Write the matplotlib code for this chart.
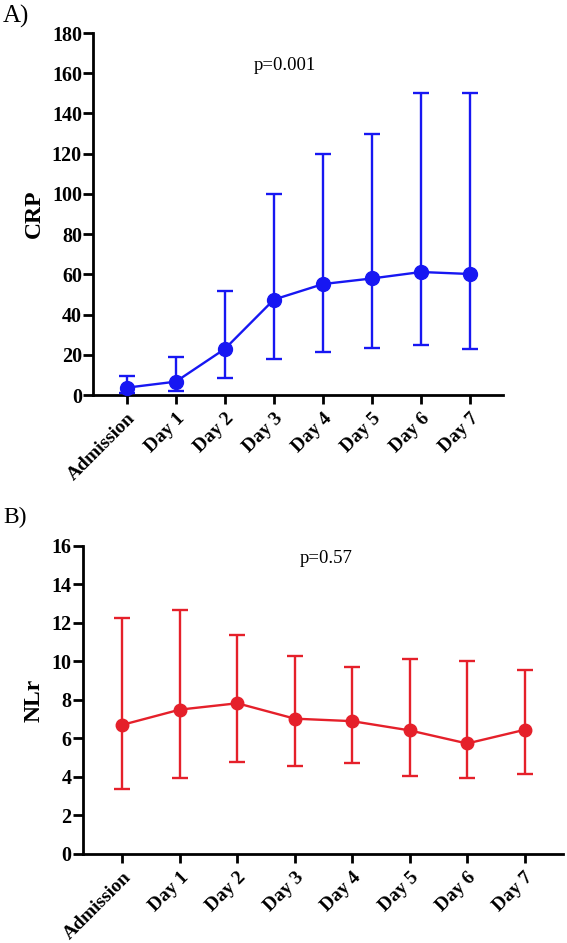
import matplotlib.pyplot as plt
import numpy as np

plt.rcParams['font.family'] = ['Liberation Serif', 'DejaVu Serif']

days = ["Admission", "Day 1", "Day 2", "Day 3", "Day 4", "Day 5", "Day 6", "Day 7"]

# CRP: mean with lower / upper bar ends
crp_mean = [3.7, 6.7, 23.0, 47.5, 55.2, 58.0, 61.2, 60.2]
crp_low = [1.2, 2.0, 8.7, 18.0, 21.2, 23.3, 25.0, 23.0]
crp_high = [9.7, 19.0, 52.0, 100.0, 120.0, 130.0, 150.0, 150.0]
crp_p = "p=0.001"

# NLr: mean with lower / upper bar ends
nlr_mean = [6.71, 7.50, 7.83, 7.03, 6.90, 6.42, 5.74, 6.45]
nlr_low = [3.37, 3.95, 4.77, 4.57, 4.73, 4.03, 3.95, 4.17]
nlr_high = [12.24, 12.70, 11.36, 10.29, 9.72, 10.12, 10.05, 9.57]
nlr_p = "p=0.57"

fig = plt.figure(figsize=(5.67, 9.43), dpi=100)
ax_a = fig.add_axes([0.164, 0.581, 0.723, 0.384])
ax_b = fig.add_axes([0.146, 0.0944, 0.847, 0.3266])


def draw_panel(ax, mean, low, high, color, ylabel, ymax, ystep, ptext, ppos, ms):
    x = np.arange(len(days))
    mean = np.array(mean)
    yerr = [mean - np.array(low), np.array(high) - mean]
    ax.errorbar(x, mean, yerr=yerr, color=color, marker='o', markersize=ms,
                linewidth=1.7, elinewidth=1.7, capsize=5.5, capthick=1.7,
                clip_on=False, zorder=3)
    ax.set_ylim(0, ymax)
    ax.set_yticks(np.arange(0, ymax + ystep / 2, ystep))
    ax.set_xlim(-0.69, 7.67)
    ax.set_xticks(x)
    ax.set_xticklabels(days, rotation=45, ha='right', rotation_mode='anchor',
                       fontsize=14, fontweight='bold')
    for lab in ax.get_yticklabels():
        lab.set_fontweight('bold')
        lab.set_fontsize(14.5)
    ax.set_ylabel(ylabel, fontsize=17, fontweight='bold', labelpad=5)
    ax.spines['top'].set_visible(False)
    ax.spines['right'].set_visible(False)
    ax.spines['left'].set_linewidth(2)
    ax.spines['bottom'].set_linewidth(2)
    ax.tick_params(axis='y', length=7, width=2, pad=1)
    ax.tick_params(axis='x', length=6.5, width=2, pad=4)
    ax.text(ppos[0], ppos[1], ptext, fontsize=13.5, ha='center', va='center')


draw_panel(ax_a, crp_mean, crp_low, crp_high, '#1717F2', 'CRP', 180, 20,
           crp_p, (3.22, 164), 10)
draw_panel(ax_b, nlr_mean, nlr_low, nlr_high, '#E5202A', 'NLr', 16, 2,
           nlr_p, (3.54, 15.35), 9)

fig.text(0.004, 0.983, "A)", fontsize=18, ha='left', va='center')
fig.text(0.006, 0.451, "B)", fontsize=17, ha='left', va='center')

fig.savefig("out.png", dpi=100)
